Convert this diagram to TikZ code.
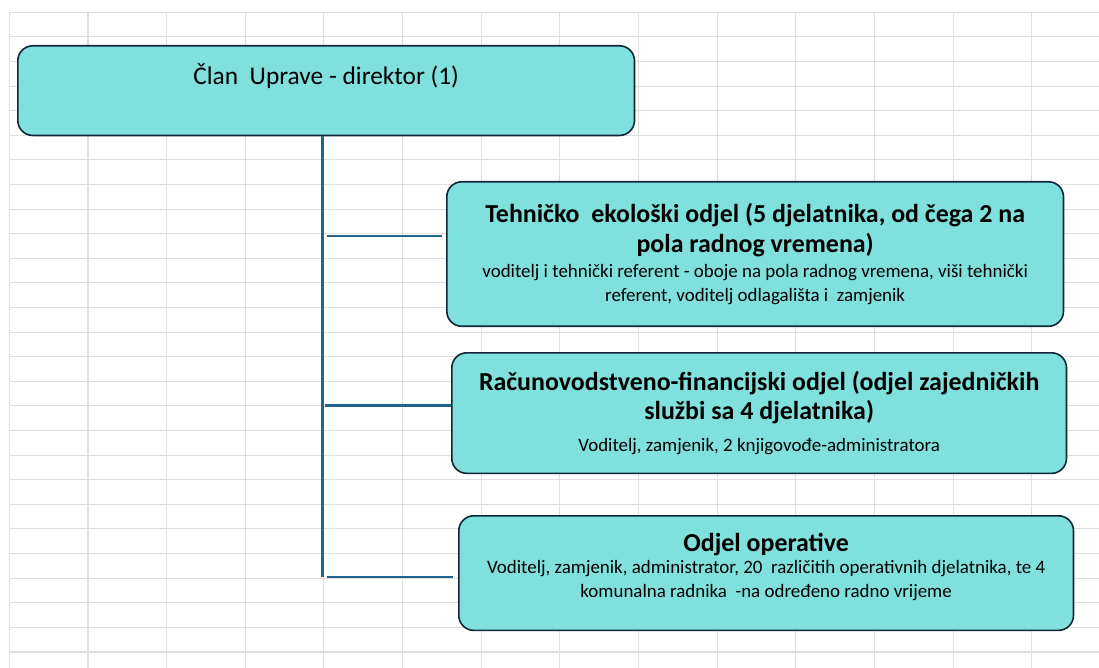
\documentclass[tikz,border=0pt]{standalone}
\usepackage{fontspec}
\setmainfont{Carlito}
\definecolor{boxfill}{RGB}{128,224,221}
\definecolor{boxline}{RGB}{14,40,56}
\definecolor{linkblue}{RGB}{30,100,140}
\definecolor{gridgray}{RGB}{223,223,223}
\newcommand{\headline}{\fontsize{26}{24}\selectfont\bfseries}
\newcommand{\bodyline}{\fontsize{19}{24}\selectfont}
\tikzset{
  unit/.style={draw=boxline, fill=boxfill, line width=1.6bp, rounded corners=15bp,
    anchor=north west, inner sep=0pt, align=center, font=\fontsize{19}{24}\selectfont},
  branch/.style={draw=linkblue, line width=2.8bp},
  gridline/.style={draw=gridgray, line width=1.1bp},
}
\begin{document}
\begin{tikzpicture}[x=1bp,y=-1bp]
    \useasboundingbox[fill=white] (0,0) rectangle (1099,668);
    % sheet grid
    \foreach \k in {0,...,13}
      \draw[gridline] ({9.3+78.65*\k},12.3) -- ({9.3+78.65*\k},668);
    \foreach \k in {0,...,25}
      \draw[gridline] (9.3,{12.3+24.6*\k}) -- (1099,{12.3+24.6*\k});
    \draw[gridline, line width=2.2bp] (9.3,651.9) -- (1099,651.9);
    % boxes
    \node[unit, minimum width=619, minimum height=90] (uprava) at (17,45)
      {\fontsize{25.5}{24}\selectfont Član\ \ Uprave - direktor (1)\\[10bp]\mbox{}};
    \node[unit, minimum width=619, minimum height=145] (tehnicki) at (446,181)
      {\headline Tehničko\ \ ekološki odjel (5 djelatnika, od čega 2 na\\[6bp]
       \headline pola radnog vremena)\\[2bp]
       \bodyline voditelj i tehnički referent - oboje na pola radnog vremena, viši tehnički\\
       \bodyline referent, voditelj odlagališta i\ \ zamjenik};
    \node[unit, minimum width=617, minimum height=121] (financije) at (451,352)
      {\headline Računovodstveno-financijski odjel (odjel zajedničkih\\[5bp]
       \headline službi sa 4 djelatnika)\\[8bp]
       \bodyline Voditelj, zamjenik, 2 knjigovođe-administratora};
    \node[unit, minimum width=617, minimum height=115, text depth=15bp] (operativa) at (458,515)
      {\headline Odjel operative\\[-2bp]
       \bodyline Voditelj, zamjenik, administrator, 20\ \ različitih operativnih djelatnika, te 4\\
       \bodyline komunalna radnika\ \ -na određeno radno vrijeme};
    % connectors
    \coordinate (trunk) at (322.5,577);
    \coordinate (tap1) at (327,236);
    \coordinate (tap2) at (325,405.5);
    \coordinate (tap3) at (327,577);
    \draw[branch] (trunk |- uprava.south) -- (trunk);
    \draw[branch, shorten >=4bp] (tap1) -- (tap1 -| tehnicki.west);
    \draw[branch] (tap2) -- (tap2 -| financije.west);
    \draw[branch, shorten >=5bp] (tap3) -- (tap3 -| operativa.west);
\end{tikzpicture}
\end{document}
